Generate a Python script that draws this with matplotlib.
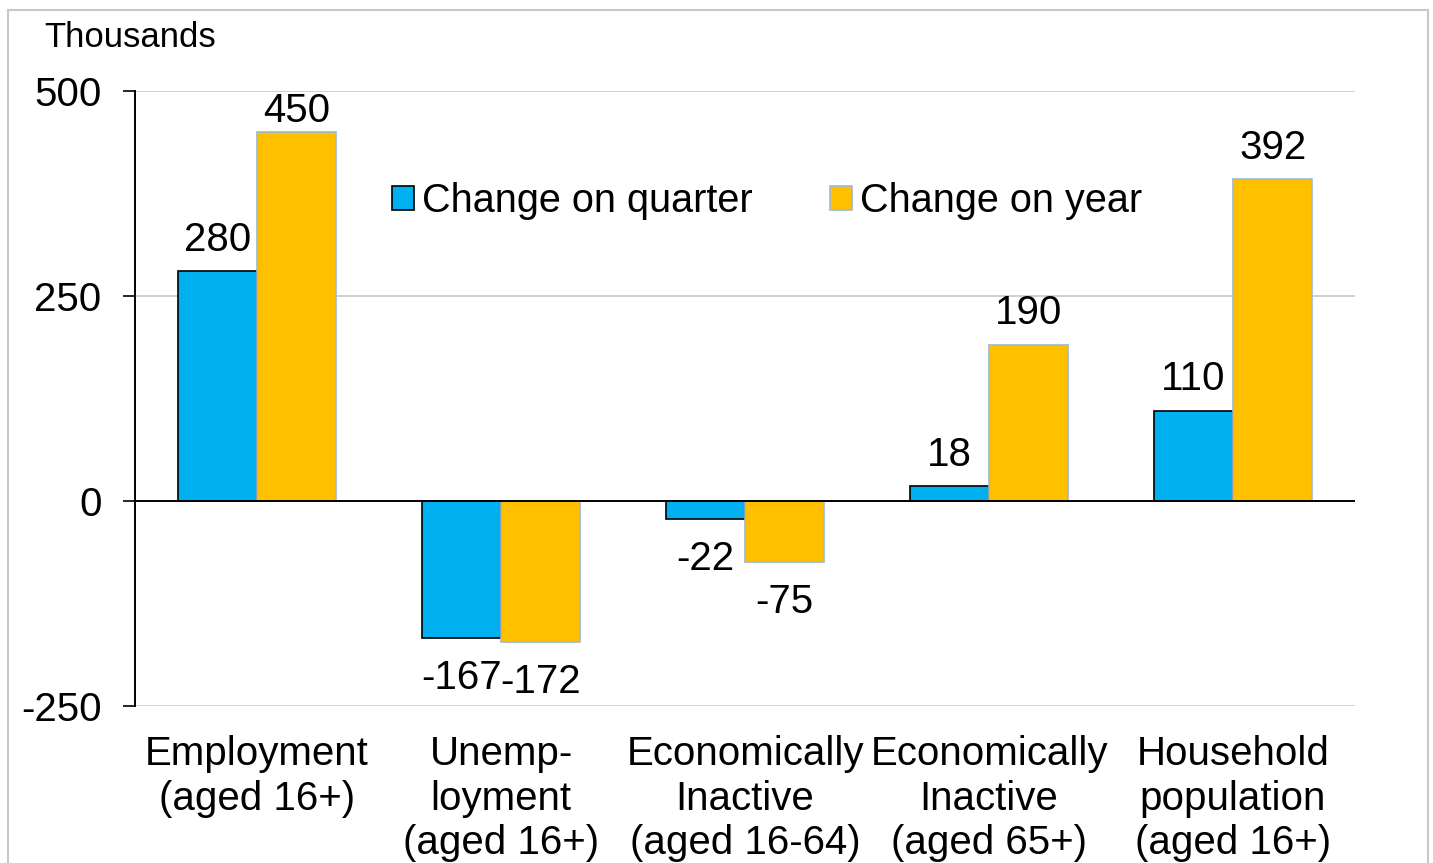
import numpy as np
import matplotlib.pyplot as plt
from matplotlib.patches import Rectangle

plt.rcParams['font.family'] = ['Liberation Sans', 'DejaVu Sans']
plt.rcParams['axes.unicode_minus'] = False

categories = ['Employment\n(aged 16+)', 'Unemp-\nloyment\n(aged 16+)',
              'Economically\nInactive\n(aged 16-64)', 'Economically\nInactive\n(aged 65+)',
              'Household\npopulation\n(aged 16+)']
quarter = [280, -167, -22, 18, 110]
year = [450, -172, -75, 190, 392]
series_names = ['Change on quarter', 'Change on year']

blue = '#00B0F0'
gold = '#FFC000'
fs = 29

fig = plt.figure(figsize=(14.33, 8.63), dpi=100)
ax = fig.add_axes([0.0942, 0.1819, 0.8514, 0.7132])

x = np.arange(len(categories))
w = 0.325
b1 = ax.bar(x - w / 2, quarter, w, color=blue, edgecolor='black', linewidth=1.2,
            label=series_names[0], zorder=3)
b2 = ax.bar(x + w / 2, year, w, color=gold, edgecolor='#9DB9D9', linewidth=1.2,
            label=series_names[1], zorder=3)

for bars, vals in [(b1, quarter), (b2, year)]:
    for r, v in zip(bars, vals):
        cx = r.get_x() + r.get_width() / 2
        if v >= 0:
            off = 9 if v < 420 else 1  # labels near the top get squeezed down
            ax.annotate(str(v), (cx, v), xytext=(0, off), textcoords='offset points',
                        ha='center', va='bottom', fontsize=fs)
        else:
            ax.annotate(str(v), (cx, v), xytext=(0, -15), textcoords='offset points',
                        ha='center', va='top', fontsize=fs)

ax.set_xlim(-0.5, len(categories) - 0.5)
ax.set_ylim(-250, 500)
ax.set_yticks([-250, 0, 250, 500])
ax.tick_params(axis='y', labelsize=fs, length=9, width=1.2, direction='out', pad=15)
ax.tick_params(axis='x', length=0, pad=21)
ax.set_xticks(x)
ax.set_xticklabels(categories, fontsize=fs, linespacing=1.22, va='top')

ax.grid(axis='y', color='#C8C8C8', linewidth=1.2, zorder=0)
for s in ['top', 'right', 'bottom']:
    ax.spines[s].set_visible(False)
ax.spines['left'].set_linewidth(1.4)
ax.axhline(0, color='black', linewidth=1.4, zorder=4)

ax.legend(loc='center left', bbox_to_anchor=(0.211, 0.82), ncol=2, frameon=False,
          fontsize=28.5, handlelength=0.55, handleheight=0.55, handletextpad=0.2,
          columnspacing=1.95, borderaxespad=0, borderpad=0)

fig.text(0.031, 0.957, 'Thousands', fontsize=25, ha='left', va='center')

fig.patches.append(Rectangle((8 / 1433, -0.01), 1420 / 1433, 1.0 - 10 / 863 + 0.01,
                             transform=fig.transFigure, fill=False,
                             edgecolor='#C8C8C8', linewidth=1.5))

fig.savefig('out.png', dpi=100)
